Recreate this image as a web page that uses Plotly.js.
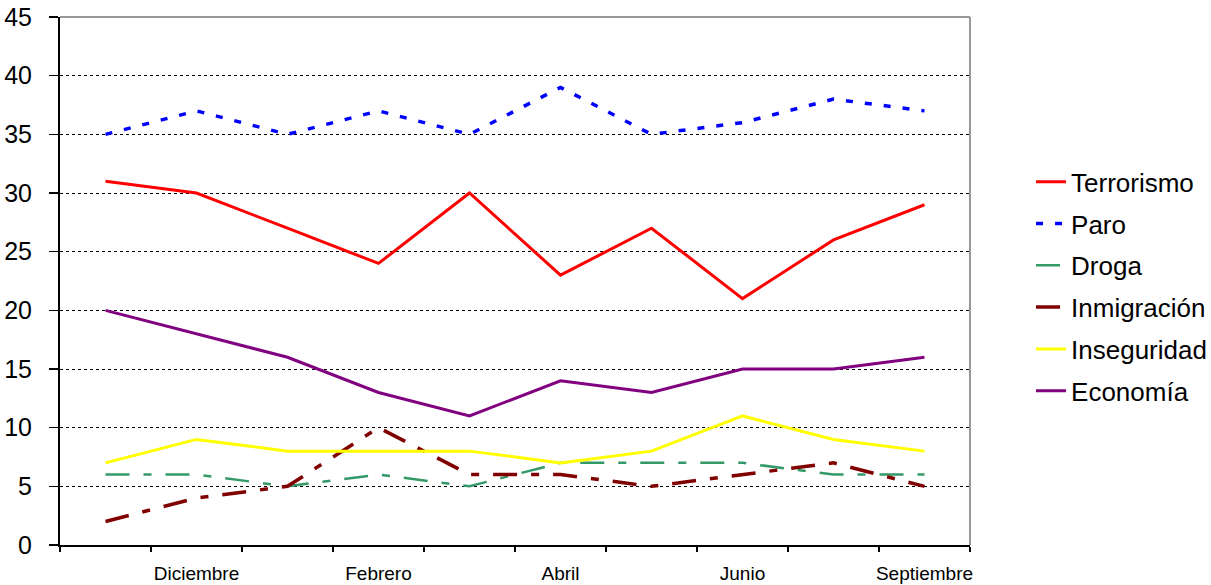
<!DOCTYPE html>
<html>
<head>
<meta charset="utf-8">
<script src="https://cdn.plot.ly/plotly-3.0.1.min.js"></script>
<style>html,body{margin:0;padding:0;background:#fff;}#chart{width:1211px;height:585px;}</style>
</head>
<body>
<div id="chart"></div>
<script>
const months = ['Noviembre','Diciembre','Enero','Febrero','Marzo','Abril','Mayo','Junio','Julio','Septiembre'];
const tickLabels = ['', 'Diciembre', '', 'Febrero', '', 'Abril', '', 'Junio', '', 'Septiembre'];

const terrorismo  = [31, 30, 27, 24, 30, 23, 27, 21, 26, 29];
const paro        = [35, 37, 35, 37, 35, 39, 35, 36, 38, 37];
const droga       = [6, 6, 5, 6, 5, 7, 7, 7, 6, 6];
const inmigracion = [2, 4, 5, 10, 6, 6, 5, 6, 7, 5];
const inseguridad = [7, 9, 8, 8, 8, 7, 8, 11, 9, 8];
const economia    = [20, 18, 16, 13, 11, 14, 13, 15, 15, 16];

const seriesNames = ['Terrorismo','Paro','Droga','Inmigración','Inseguridad','Economía'];
const seriesData = [terrorismo, paro, droga, inmigracion, inseguridad, economia];
const styles = [
  {color:'#FF0000', width:3, dash:'solid'},
  {color:'#0000FF', width:3.5, dash:'7px,12px'},
  {color:'#339966', width:2.5, dash:'24px,14px,8px,14px'},
  {color:'#800000', width:3.5, dash:'24px,14px,8px,14px'},
  {color:'#FFFF00', width:3, dash:'solid'},
  {color:'#800080', width:3, dash:'solid'}
];

const traces = seriesNames.map((n, i) => ({
  x: months, y: seriesData[i], name: n, type: 'scatter', mode: 'lines',
  line: styles[i], legendgroup: 'g' + i
}));

const layout = {
  width: 1211, height: 585,
  margin: {l: 60, r: 241, t: 17, b: 40, autoexpand: false},
  paper_bgcolor: '#fff', plot_bgcolor: '#fff',
  font: {family: '"Liberation Sans", Arial, sans-serif', color: '#000'},
  showlegend: true,
  legend: {
    xref: 'container', x: 0.8514, xanchor: 'left', y: 0.49, yanchor: 'middle',
    font: {size: 26, color: '#000'}, tracegroupgap: 5,
    bgcolor: 'rgba(0,0,0,0)', borderwidth: 0
  },
  xaxis: {
    type: 'category', categoryorder: 'array', categoryarray: months,
    range: [-0.5, 9.5], tickson: 'boundaries',
    tickvals: months, ticktext: tickLabels, tickangle: 0,
    ticks: 'outside', ticklen: 5, tickwidth: 1.5, tickcolor: '#000',
    ticklabelstandoff: 10,
    showline: true, linecolor: '#000', linewidth: 2,
    showgrid: false, zeroline: false,
    tickfont: {size: 19, color: '#000'}
  },
  yaxis: {
    range: [0, 45], dtick: 5, tick0: 0,
    ticks: 'outside', ticklen: 9, tickwidth: 1.5, tickcolor: '#000',
    ticklabelstandoff: 12,
    showline: true, linecolor: '#000', linewidth: 2,
    showgrid: true, gridcolor: '#000', gridwidth: 1, griddash: 'dot',
    zeroline: false,
    tickfont: {size: 25, color: '#000'}
  },
  shapes: [
    {type: 'line', xref: 'paper', yref: 'paper', x0: 0, x1: 1, y0: 1, y1: 1,
     line: {color: '#999999', width: 2}, layer: 'above'},
    {type: 'line', xref: 'paper', yref: 'paper', x0: 1, x1: 1, y0: 0, y1: 1,
     line: {color: '#999999', width: 2}, layer: 'above'}
  ]
};

Plotly.newPlot('chart', traces, layout, {displayModeBar: false, staticPlot: true});
</script>
</body>
</html>
